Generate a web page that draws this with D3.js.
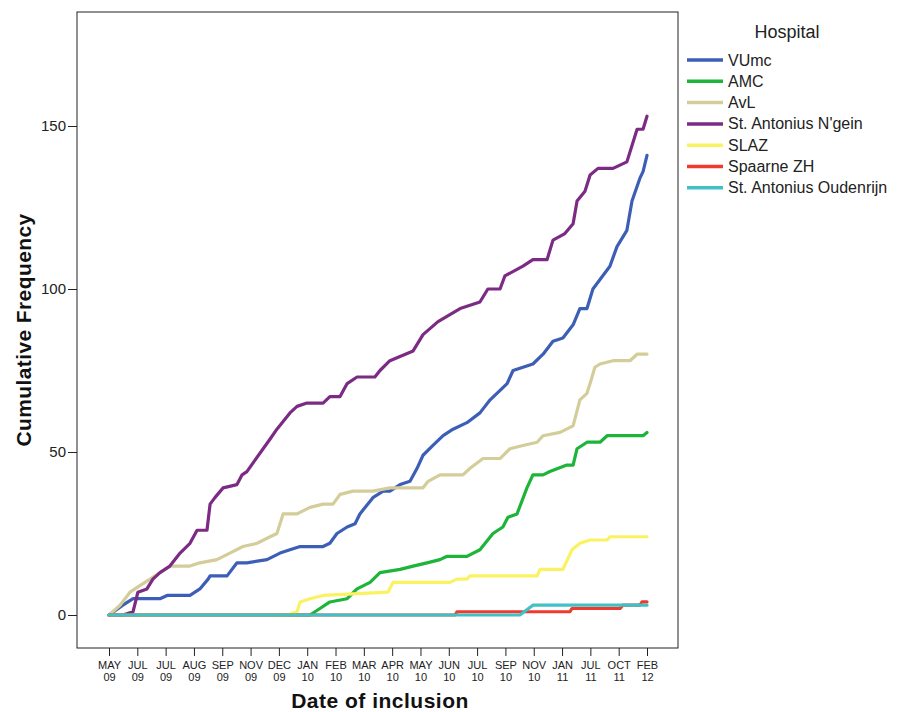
<!DOCTYPE html>
<html>
<head>
<meta charset="utf-8">
<script src="https://cdn.jsdelivr.net/npm/d3@7"></script>
<style>
  body { margin: 0; background: #fff; }
  svg { font-family: Arial, "Liberation Sans", sans-serif; }
</style>
</head>
<body>
<svg id="chart" width="899" height="712"></svg>
<script>
// tick labels along the x axis (month / year), equally spaced
const tickMonths = ['MAY', 'JUL', 'JUL', 'AUG', 'SEP', 'NOV', 'DEC', 'JAN', 'FEB', 'MAR',
                    'APR', 'MAY', 'JUN', 'JUL', 'SEP', 'NOV', 'JAN', 'JUL', 'OCT', 'FEB'];
const tickYears = ['09', '09', '09', '09', '09', '09', '09', '10', '10', '10',
                   '10', '10', '10', '10', '10', '10', '11', '11', '11', '12'];

const hospitals = ['VUmc', 'AMC', 'AvL', "St. Antonius N'gein", 'SLAZ', 'Spaarne ZH', 'St. Antonius Oudenrijn'];
const colors = ['#3d5eb6', '#1db43a', '#d4cd99', '#7c2b84', '#fbf262', '#f13a2d', '#3fc1c5'];

// [position on the tick index scale, cumulative count]
const vumc = [[0,0],[0.49,3],[0.85,5],[1.8,5],[2.05,6],[2.86,6],[3.21,8],[3.5,11],[3.57,12],[4.17,12],
  [4.52,16],[4.87,16],[5.58,17],[6.04,19],[6.39,20],[6.75,21],[7.56,21],[7.8,22],[8.05,25],[8.41,27],
  [8.69,28],[8.86,31],[9.32,36],[9.68,38],[9.92,38],[10.28,40],[10.63,41],[10.88,45],[11.09,49],[11.44,52],
  [11.8,55],[12.15,57],[12.64,59],[13.1,62],[13.46,66],[13.7,68],[14.06,71],[14.27,75],[14.62,76],[14.97,77],
  [15.33,80],[15.68,84],[16.03,85],[16.39,89],[16.63,94],[16.88,94],[17.09,100],[17.69,107],[17.94,113],
  [18.29,118],[18.47,127],[18.75,134],[18.86,136],[19,141]];
const amc = [[0,0],[7.1,0],[7.45,2],[7.8,4],[8.41,5],[8.76,8],[9.22,10],[9.57,13],[10.28,14],[10.74,15],
  [11.23,16],[11.69,17],[11.94,18],[12.64,18],[13.1,20],[13.56,25],[13.91,27],[14.09,30],[14.41,31],
  [14.76,39],[14.97,43],[15.33,43],[15.57,44],[16.17,46],[16.39,46],[16.53,51],[16.88,53],[17.34,53],
  [17.59,55],[18.86,55],[19,56]];
const avl = [[0,0],[0.39,3],[0.74,7],[1.09,9],[1.45,11],[1.8,13],[2.15,15],[2.86,15],[3.21,16],[3.81,17],
  [4.27,19],[4.73,21],[5.23,22],[5.69,24],[5.93,25],[6.15,31],[6.64,31],[7.1,33],[7.56,34],[7.91,34],
  [8.16,37],[8.62,38],[9.32,38],[9.92,39],[11.09,39],[11.27,41],[11.69,43],[12.5,43],[12.75,45],[13.21,48],
  [13.81,48],[14.16,51],[14.62,52],[15.12,53],[15.33,55],[15.93,56],[16.39,58],[16.63,66],[16.88,68],
  [16.99,71],[17.16,76],[17.34,77],[17.8,78],[18.4,78],[18.65,80],[19,80]];
const nieuwegein = [[0,0],[0.49,0],[0.85,1],[1.02,7],[1.34,8],[1.55,11],[1.8,13],[2.15,15],[2.51,19],
  [2.86,22],[3.11,26],[3.46,26],[3.57,34],[3.74,36],[4.03,39],[4.52,40],[4.7,43],[4.87,44],[5.69,54],
  [5.93,57],[6.39,62],[6.64,64],[6.99,65],[7.56,65],[7.8,67],[8.16,67],[8.41,71],[8.76,73],[9.39,73],
  [9.57,75],[9.92,78],[10.74,81],[11.09,86],[11.62,90],[12.4,94],[13.1,96],[13.38,100],[13.81,100],
  [13.98,104],[14.62,107],[14.97,109],[15.47,109],[15.68,115],[16.1,117],[16.39,120],[16.53,127],
  [16.81,130],[16.99,135],[17.27,137],[17.8,137],[18.29,139],[18.65,149],[18.86,149],[19,153]];
const slaz = [[0,0],[6.29,0],[6.64,1],[6.75,4],[7.1,5],[7.56,6],[9.85,7],[10.03,10],[12.04,10],[12.29,11],
  [12.64,11],[12.75,12],[15.12,12],[15.22,14],[16.03,14],[16.35,20],[16.63,22],[16.99,23],[17.59,23],
  [17.69,24],[19,24]];
const spaarne = [[0,0],[12.22,0],[12.29,1],[16.28,1],[16.35,2],[18.05,2],[18.15,3],[18.75,3],[18.82,4],[19,4]];
const oudenrijn = [[0,0],[14.51,0],[14.97,3],[19,3]];

const seriesValues = [vumc, amc, avl, nieuwegein, slaz, spaarne, oudenrijn];
const yTicks = [0, 50, 100, 150];

const svg = d3.select('#chart');

// plot frame
const frame = { left: 77, top: 12, right: 678, bottom: 648 };

const x = d3.scaleLinear().domain([0, 19]).range([109, 647]);
const y = d3.scaleLinear().domain([0, 150]).range([615, 126]);

svg.append('rect')
  .attr('x', frame.left)
  .attr('y', frame.top)
  .attr('width', frame.right - frame.left)
  .attr('height', frame.bottom - frame.top)
  .attr('fill', '#fff')
  .attr('stroke', '#222')
  .attr('stroke-width', 1);

// Y axis
const yAxis = svg.append('g')
  .attr('transform', `translate(${frame.left},0)`)
  .call(d3.axisLeft(y).tickValues(yTicks).tickSize(9).tickPadding(2));
yAxis.select('.domain').remove();
yAxis.selectAll('line').attr('stroke', '#222');
yAxis.selectAll('text')
  .attr('font-size', '15px')
  .attr('font-family', 'Arial, "Liberation Sans", sans-serif')
  .attr('fill', '#222');

// X axis (two-line labels)
const xAxis = svg.append('g')
  .attr('transform', `translate(0,${frame.bottom})`)
  .call(d3.axisBottom(x).tickValues(d3.range(tickMonths.length)).tickSize(8).tickFormat(''));
xAxis.select('.domain').remove();
xAxis.selectAll('line').attr('stroke', '#222');
xAxis.selectAll('.tick text').remove();
xAxis.selectAll('.tick').each(function (d) {
  const t = d3.select(this).append('text')
    .attr('fill', '#222')
    .attr('font-size', '11px')
    .attr('font-family', 'Arial, "Liberation Sans", sans-serif')
    .attr('text-anchor', 'middle');
  t.append('tspan').attr('x', 0).attr('y', 21).text(tickMonths[d]);
  t.append('tspan').attr('x', 0).attr('y', 33).text(tickYears[d]);
});

// lines
const line = d3.line()
  .x(d => x(d[0]))
  .y(d => y(d[1]));

svg.append('g')
  .selectAll('path')
  .data(seriesValues)
  .join('path')
  .attr('d', line)
  .attr('fill', 'none')
  .attr('stroke', (d, i) => colors[i])
  .attr('stroke-width', 3.2)
  .attr('stroke-linejoin', 'round')
  .attr('stroke-linecap', 'round');

// axis titles
svg.append('text')
  .attr('x', 380)
  .attr('y', 708)
  .attr('text-anchor', 'middle')
  .attr('font-size', '21px')
  .attr('letter-spacing', '0.5px')
  .attr('font-weight', 'bold')
  .attr('fill', '#111')
  .text('Date of inclusion');

svg.append('text')
  .attr('transform', 'translate(31,330) rotate(-90)')
  .attr('text-anchor', 'middle')
  .attr('font-size', '21px')
  .attr('letter-spacing', '0.4px')
  .attr('font-weight', 'bold')
  .attr('fill', '#111')
  .text('Cumulative Frequency');

// legend
const legend = svg.append('g').attr('transform', 'translate(687,0)');
legend.append('text')
  .attr('x', 100)
  .attr('y', 38)
  .attr('text-anchor', 'middle')
  .attr('font-size', '18px')
  .attr('fill', '#222')
  .text('Hospital');

hospitals.forEach((h, i) => {
  const g = legend.append('g').attr('transform', `translate(0,${60 + i * 21.3})`);
  g.append('line')
    .attr('x1', 0).attr('x2', 36)
    .attr('y1', 0).attr('y2', 0)
    .attr('stroke', colors[i])
    .attr('stroke-width', 3.5);
  g.append('text')
    .attr('x', 41)
    .attr('y', 5.5)
    .attr('font-size', '16px')
    .attr('fill', '#222')
    .text(h);
});
</script>
</body>
</html>
